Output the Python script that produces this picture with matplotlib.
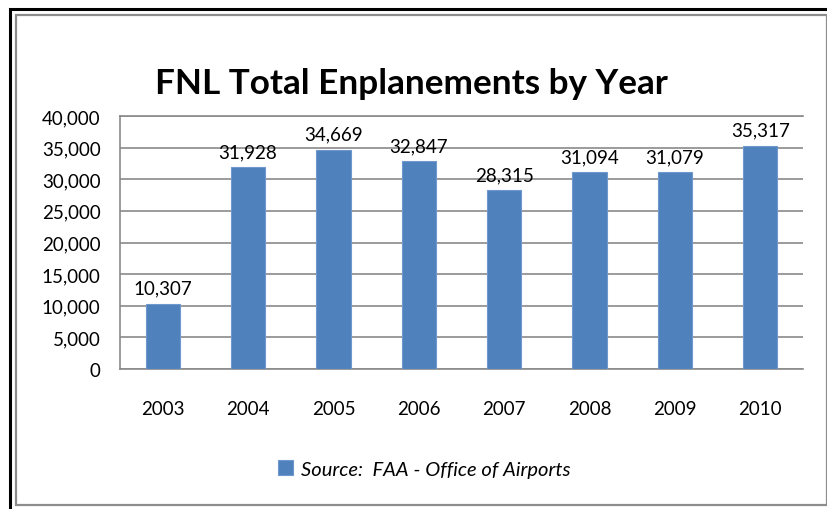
import matplotlib
matplotlib.use("Agg")
import matplotlib.pyplot as plt
from matplotlib.patches import Rectangle
from matplotlib.ticker import FuncFormatter

years = ["2003", "2004", "2005", "2006", "2007", "2008", "2009", "2010"]
enplanements = [10307, 31928, 34669, 32847, 28315, 31094, 31079, 35317]
yticks = [0, 5000, 10000, 15000, 20000, 25000, 30000, 35000, 40000]
title = "FNL Total Enplanements by Year"
legend_label = "Source:  FAA - Office of Airports"

W, H = 828, 510
fig = plt.figure(figsize=(W / 100, H / 100), dpi=100)
fig.patch.set_facecolor("white")
FONT = "Lato"
FS = 13.5

# outer borders
fig.add_artist(Rectangle((10 / W, -0.1), 1.2, (H - 10) / H + 0.1, transform=fig.transFigure,
                         fill=False, edgecolor="black", linewidth=2.2))
fig.add_artist(Rectangle((16 / W, 1 - 506 / H), (827 - 16) / W, (506 - 16) / H,
                         transform=fig.transFigure, fill=False, edgecolor="#8c8c8c", linewidth=1.6))

ax = fig.add_axes([120 / W, 1 - 370 / H, (803 - 120) / W, (370 - 117) / H])
x = list(range(len(years)))
bars = ax.bar(x, enplanements, width=0.40, color="#4F81BD", edgecolor="#6f98cc", linewidth=0.8,
              label=legend_label, zorder=3)
ax.set_xlim(-0.5, len(years) - 0.5)
ax.set_ylim(0, 40000)
ax.set_yticks(yticks)
ax.yaxis.set_major_formatter(FuncFormatter(lambda v, p: f"{int(v):,}"))
ax.set_xticks(x)
ax.set_xticklabels(years)
ax.grid(axis="y", color="#8a8a8a", linewidth=1.2, zorder=0)
ax.spines["right"].set_visible(False)
for s in ["left", "top", "bottom"]:
    ax.spines[s].set_color("#8a8a8a")
    ax.spines[s].set_linewidth(1.2)
ax.tick_params(axis="both", length=0, labelsize=FS, colors="black")
ax.tick_params(axis="y", pad=14)
ax.tick_params(axis="x", pad=22)
for lab in ax.get_xticklabels() + ax.get_yticklabels():
    lab.set_fontfamily(FONT)

for xi, v in zip(x, enplanements):
    ax.annotate(f"{v:,}", (xi, v), xytext=(0, 5), textcoords="offset points",
                ha="center", va="bottom", fontsize=FS, fontfamily=FONT, zorder=4)

fig.text(411 / W, 1 - 84 / H, title, ha="center", va="center", fontsize=25.3,
         fontweight="bold", fontfamily=FONT)

leg = fig.legend(handles=[bars], labels=[legend_label], loc="center",
                 bbox_to_anchor=(424 / W, 1 - 470 / H), frameon=False,
                 prop={"family": FONT, "style": "italic", "size": 14.5},
                 handlelength=0.75, handleheight=0.75, handletextpad=0.4)

fig.savefig("out.png", dpi=100, facecolor="white")
